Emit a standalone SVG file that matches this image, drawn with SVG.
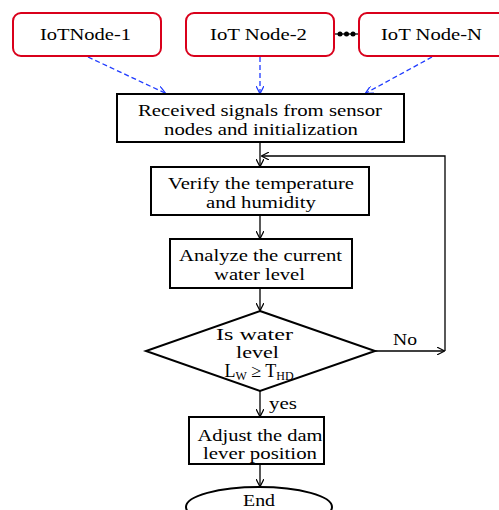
<svg xmlns="http://www.w3.org/2000/svg" width="499" height="510" viewBox="0 0 499 510">
<defs>
<style>
.t{font-family:"Liberation Serif","Times New Roman",serif;font-size:17px;fill:#000;text-anchor:middle}
.iot{fill:#fff;stroke:#d9001b;stroke-width:2}
.box{fill:#fff;stroke:#000;stroke-width:2}
.ln{fill:none;stroke:#000;stroke-width:1.3}
.dash{fill:none;stroke:#1f3bff;stroke-width:1.3;stroke-dasharray:5 3}
</style>
<marker id="ah" viewBox="0 0 10 10" refX="9" refY="5" markerWidth="8" markerHeight="8" orient="auto" markerUnits="userSpaceOnUse"><path d="M0,0 L10,5 L0,10" fill="none" stroke="#000" stroke-width="1.5"/></marker>
<marker id="bh" viewBox="0 0 10 10" refX="9" refY="5" markerWidth="8" markerHeight="8" orient="auto" markerUnits="userSpaceOnUse"><path d="M0,0 L10,5 L0,10" fill="none" stroke="#1f3bff" stroke-width="1.5"/></marker>
</defs>
<rect width="499" height="510" fill="#fff"/>
<g id="connectors">
<path class="dash" d="M88,57 L165,93" marker-end="url(#bh)"/>
<path class="dash" d="M260,57 L260,93" marker-end="url(#bh)"/>
<path class="dash" d="M432,57 L366,93" marker-end="url(#bh)"/>
<path class="ln" d="M260,142 L260,166" marker-end="url(#ah)"/>
<path class="ln" d="M445,351 L445,156 L262,156" marker-end="url(#ah)"/>
<path class="ln" d="M260,215 L260,238" marker-end="url(#ah)"/>
<path class="ln" d="M260,288 L260,310" marker-end="url(#ah)"/>
<path class="ln" d="M375,351 L444,351" marker-end="url(#ah)"/>
<path class="ln" d="M260,391 L260,416" marker-end="url(#ah)"/>
<path class="ln" d="M260,464 L260,486" marker-end="url(#ah)"/>
<circle cx="340" cy="34" r="2.5" fill="#000"/>
<circle cx="346.5" cy="34" r="2.5" fill="#000"/>
<circle cx="353" cy="34" r="2.5" fill="#000"/>
<path d="M334,34 L359,34" stroke="#000" stroke-width="1.3"/>
<text class="t" x="405" y="345" textLength="24" lengthAdjust="spacingAndGlyphs">No</text>
<text class="t" x="283" y="409" textLength="28" lengthAdjust="spacingAndGlyphs">yes</text>
</g>
<g id="node1"><rect class="iot" x="13" y="13" width="148" height="43" rx="8"/><text class="t" x="85.5" y="40" textLength="91" lengthAdjust="spacingAndGlyphs">IoTNode-1</text></g>
<g id="node2"><rect class="iot" x="186" y="13" width="148" height="43" rx="8"/><text class="t" x="258.5" y="40" textLength="97" lengthAdjust="spacingAndGlyphs">IoT Node-2</text></g>
<g id="nodeN"><rect class="iot" x="359" y="13" width="148" height="43" rx="8"/><text class="t" x="431.5" y="40" textLength="101" lengthAdjust="spacingAndGlyphs">IoT Node-N</text></g>
<g id="received"><rect class="box" x="117" y="94" width="287" height="48"/><text class="t" x="260" y="116" textLength="244" lengthAdjust="spacingAndGlyphs">Received signals from sensor</text><text class="t" x="261" y="135" textLength="194" lengthAdjust="spacingAndGlyphs">nodes and initialization</text></g>
<g id="verify"><rect class="box" x="151" y="167" width="218" height="48"/><text class="t" x="261" y="189" textLength="186" lengthAdjust="spacingAndGlyphs">Verify the temperature</text><text class="t" x="261" y="208" textLength="110" lengthAdjust="spacingAndGlyphs">and humidity</text></g>
<g id="analyze"><rect class="box" x="170" y="239" width="182" height="49"/><text class="t" x="260.5" y="261" textLength="163" lengthAdjust="spacingAndGlyphs">Analyze the current</text><text class="t" x="259.5" y="280" textLength="91" lengthAdjust="spacingAndGlyphs">water level</text></g>
<g id="decision"><path class="box" d="M260,311 L375,351 L260,391 L146,351 Z"/><text class="t" x="254.5" y="340" textLength="77" lengthAdjust="spacingAndGlyphs">Is water</text><text class="t" x="257.5" y="358" textLength="43" lengthAdjust="spacingAndGlyphs">level</text><text class="t" x="259" y="377" style="font-size:18px">L<tspan font-size="12" dy="3">W</tspan><tspan dy="-3"> ≥ T</tspan><tspan font-size="12" dy="3">HD</tspan></text></g>
<g id="adjust"><rect class="box" x="189" y="417" width="135" height="47"/><text class="t" x="260" y="441" textLength="125" lengthAdjust="spacingAndGlyphs">Adjust the dam</text><text class="t" x="260" y="459" textLength="114" lengthAdjust="spacingAndGlyphs">lever position</text></g>
<g id="end"><ellipse class="box" cx="259" cy="507" rx="73" ry="20"/><text class="t" x="259" y="506" textLength="32" lengthAdjust="spacingAndGlyphs">End</text></g>
</svg>
